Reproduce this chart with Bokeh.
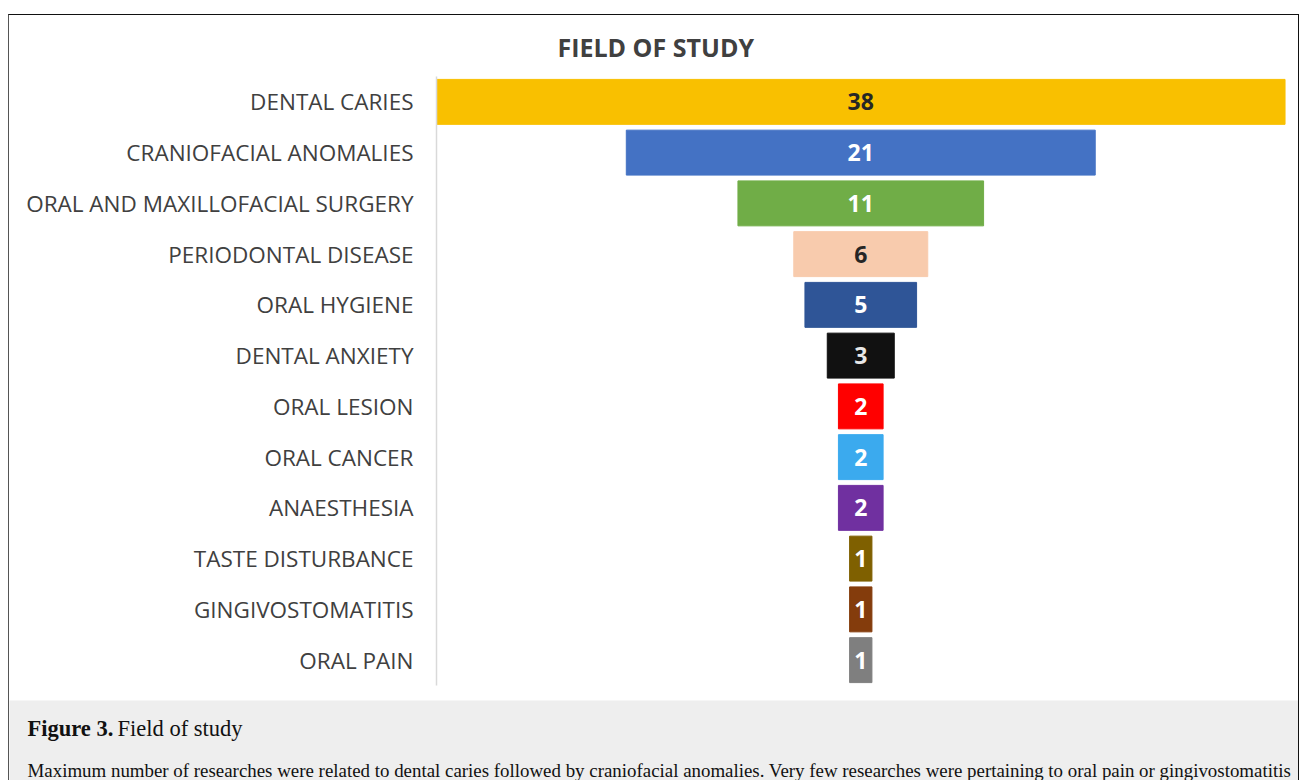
from bokeh.plotting import figure
from bokeh.models import ColumnDataSource, Range1d, FactorRange
from bokeh.layouts import column
from bokeh.core.properties import value
from bokeh.embed import file_html
from bokeh.resources import INLINE

categories = ["DENTAL CARIES", "CRANIOFACIAL ANOMALIES", "ORAL AND MAXILLOFACIAL SURGERY",
              "PERIODONTAL DISEASE", "ORAL HYGIENE", "DENTAL ANXIETY", "ORAL LESION",
              "ORAL CANCER", "ANAESTHESIA", "TASTE DISTURBANCE", "GINGIVOSTOMATITIS", "ORAL PAIN"]
counts = [38, 21, 11, 6, 5, 3, 2, 2, 2, 1, 1, 1]
bar_colors = ["#F9C000", "#4472C4", "#70AD47", "#F8CBAD", "#2F5597", "#111111",
              "#FF0000", "#3BAAEE", "#7030A0", "#7F6000", "#843C0C", "#7F7F7F"]
label_colors = ["#262626", "#FFFFFF", "#FFFFFF", "#262626", "#FFFFFF", "#E8E8E8",
                "#FFFFFF", "#FFFFFF", "#FFFFFF", "#FFFFFF", "#FFFFFF", "#FFFFFF"]
chart_title = "FIELD OF STUDY"
caption_head = "Figure 3."
caption_title = "Field of study"
caption_text = ("Maximum number of researches were related to dental caries followed by craniofacial "
                "anomalies. Very few researches were pertaining to oral pain or gingivostomatitis")

src = ColumnDataSource(dict(
    cat=categories,
    left=[-c / 2 for c in counts],
    right=[c / 2 for c in counts],
    color=bar_colors,
    label=[str(c) for c in counts],
    tcolor=label_colors,
))

FONT = "Open Sans"

p = figure(width=1289, height=685,
           y_range=FactorRange(*categories[::-1]),
           x_range=Range1d(-19, 19.2),
           x_axis_location=None,
           output_backend="svg", toolbar_location=None,
           min_border_left=427, min_border_right=9, min_border_top=60, min_border_bottom=15,
           title=chart_title)
p.frame_align = False

p.hbar(y="cat", left="left", right="right", height=0.886, fill_color="color",
       line_color="color", source=src)
p.text(x=0, y="cat", text="label", text_color="tcolor", source=src,
       text_font=value(FONT), text_font_style="bold", text_font_size="23px",
       text_align="center", text_baseline="middle")

p.title.align = "left"
p.title.offset = 121
p.title.text_font = FONT
p.title.text_font_size = "25px"
p.title.text_font_style = "bold"
p.title.text_color = "#404040"
p.title.standoff = 25

p.yaxis.axis_line_color = "#D9D9D9"
p.yaxis.axis_line_width = 1.5
p.yaxis.major_tick_line_color = None
p.yaxis.minor_tick_line_color = None
p.yaxis.major_label_text_font = FONT
p.yaxis.major_label_text_font_size = "22.5px"
p.yaxis.major_label_text_color = "#404040"
p.yaxis.major_label_standoff = 17
p.xgrid.grid_line_color = None
p.ygrid.grid_line_color = None
p.outline_line_color = None

cap = figure(width=1289, height=80, x_range=Range1d(0, 1289), y_range=Range1d(80, 0),
             output_backend="svg", toolbar_location=None, min_border=0,
             background_fill_color="#EEEEEE", border_fill_color="#EEEEEE",
             outline_line_color=None, x_axis_location=None, y_axis_location=None)
cap.frame_align = False
cap.xgrid.grid_line_color = None
cap.ygrid.grid_line_color = None
SERIF = "Liberation Serif"
cap.text(x=[18], y=[28], text=[caption_head], text_font=value(SERIF), text_font_style="bold",
         text_font_size="22.5px", text_color="#111111", text_baseline="middle", text_align="left")
cap.text(x=[108], y=[28], text=[caption_title], text_font=value(SERIF),
         text_font_size="22.5px", text_color="#111111", text_baseline="middle", text_align="left")
cap.text(x=[18], y=[70], text=[caption_text], text_font=value(SERIF),
         text_font_size="18.9px", text_color="#111111", text_baseline="middle", text_align="left")

layout = column(p, cap, styles={"border-top": "1px solid #111", "border-left": "1px solid #555",
                                "border-right": "1px solid #111", "margin-top": "14px",
                                "margin-left": "8px"})

open("out.html", "w").write(file_html(layout, INLINE))
